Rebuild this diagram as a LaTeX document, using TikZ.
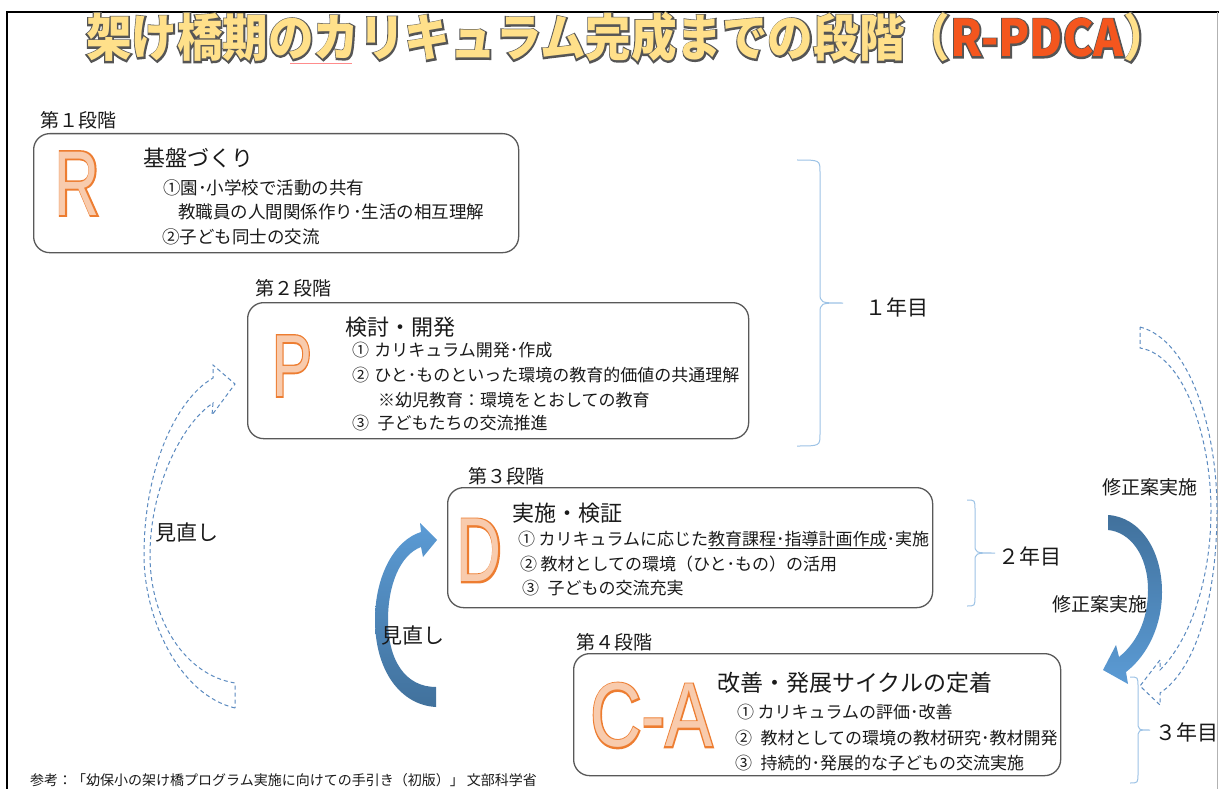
\documentclass[tikz,border=0pt]{standalone}
\usepackage{fontspec}
\setmainfont{Noto Sans CJK JP}
\newfontfamily\jp{Noto Sans CJK JP}
\newfontfamily\jpol{Noto Sans CJK JP}[RawFeature={embolden=6}]
\newfontfamily\lat{Liberation Sans}
\newfontfamily\latol{Liberation Sans}[RawFeature={embolden=3.6}]
\usetikzlibrary{calc}
\definecolor{boxline}{HTML}{595959}
\definecolor{brc}{HTML}{9DC3E6}
\definecolor{dashblue}{HTML}{5B8AC0}
\definecolor{orl}{HTML}{ED7D31}
\definecolor{orf}{HTML}{F8CBAD}
\definecolor{tyel}{HTML}{FFE08A}
\definecolor{tred}{HTML}{F4561E}
\definecolor{tout}{HTML}{555555}
\definecolor{blueA}{HTML}{5B9BD5}
\definecolor{blueB}{HTML}{41719C}
\definecolor{txt}{HTML}{1A1A1A}
% #1 position, #2 anchor, #3 fill font, #4 outline font, #5 fill colour, #6 outline colour, #7 text
\newcommand\otext[7]{%
  \node[inner sep=0pt,anchor=#2,font=#4,text=#6] at (#1) {#7};%
  \node[inner sep=0pt,anchor=#2,font=#3,text=#5] at (#1) {#7};}
\newcommand\tsz{\bfseries\fontsize{46}{46}\selectfont}
\tikzset{
  box/.style={draw=boxline, line width=1.3pt, rounded corners=16pt, inner sep=0pt, anchor=north west},
  stg/.style={anchor=west, inner sep=0pt, font=\jp\fontsize{19}{19}\selectfont, text=txt},
  hd/.style={anchor=west, inner sep=0pt, font=\jp\fontsize{22}{22}\selectfont, text=txt},
  itm/.style={anchor=west, inner sep=0pt, font=\jp\fontsize{17}{17}\selectfont, text=txt},
  yr/.style={anchor=west, inner sep=0pt, font=\jp\fontsize{21}{21}\selectfont, text=txt},
  lbl/.style={anchor=center, inner sep=0pt, font=\jp\fontsize{21}{21}\selectfont, text=txt},
  lbls/.style={anchor=center, inner sep=0pt, font=\jp\fontsize{19}{19}\selectfont, text=txt},
  braceline/.style={draw=brc, line width=1pt},
  dasharrow/.style={draw=dashblue, line width=1pt, dash pattern=on 4pt off 3pt},
}
\begin{document}
\begin{tikzpicture}[x=1pt,y=-1pt]
\useasboundingbox (0,0) rectangle (1219,789);
\fill[white] (0,0) rectangle (1219,789);
% frame
\draw[black, line width=1.2pt] (1219,12) -- (7,12) -- (7,789);
\draw[gray!60, line width=0.8pt] (1217,12) -- (1217,789);

% title
\coordinate (tA) at (86,57);
\node[anchor=base west,inner sep=0pt,font=\jp\tsz] (t1) at (tA) {\phantom{\scalebox{0.99}[1.1]{架け橋期のカリキュラム完成までの段階（}}};
\node[anchor=base west,inner sep=0pt,font=\jp\tsz] (t2) at (t1.base east) {\phantom{\scalebox{0.99}[1.1]{R-PDCA}}};
\node[anchor=base west,inner sep=0pt,font=\jp\tsz] (t3) at (t2.base east) {\phantom{\scalebox{0.99}[1.1]{）}}};
\otext{t1.base west}{base west}{\jp\tsz}{\jpol\tsz}{tyel}{tout}{\scalebox{0.99}[1.1]{架け橋期のカリキュラム完成までの段階（}}
\otext{t2.base west}{base west}{\jp\tsz}{\jpol\tsz}{tred}{tout}{\scalebox{0.99}[1.1]{R-PDCA}}
\otext{t3.base west}{base west}{\jp\tsz}{\jpol\tsz}{tyel}{tout}{\scalebox{0.99}[1.1]{）}}
\draw[red!45, line width=0.6pt] (290,63) -- (352,63);

% boxes
\node[box, minimum width=485pt, minimum height=119pt] (boxR) at (33,133) {};
\node[box, minimum width=501pt, minimum height=136pt] (boxP) at (247,302) {};
\node[box, minimum width=485pt, minimum height=120pt] (boxD) at (447,487) {};
\node[box, minimum width=487pt, minimum height=122pt] (boxC) at (573,653) {};

% stage labels
\node[stg] (s1) at (40,120) {第１段階};
\node[stg] (s2) at (255,288) {第２段階};
\node[stg] (s3) at (468,476) {第３段階};
\node[stg] (s4) at (576,642) {第４段階};

% big letters
\coordinate (cR) at (77.5,183.5);
\coordinate (cP) at (292,366);
\coordinate (cD) at (479.5,550.5);
\coordinate (cC) at (651.5,715.5);
\otext{cR}{center}{\lat\fontsize{92}{92}\selectfont}{\latol\fontsize{92}{92}\selectfont}{orf}{orl}{\scalebox{0.68}[1]{R}}
\otext{cP}{center}{\lat\fontsize{88}{88}\selectfont}{\latol\fontsize{88}{88}\selectfont}{orf}{orl}{\scalebox{0.68}[1]{P}}
\otext{cD}{center}{\lat\fontsize{91}{91}\selectfont}{\latol\fontsize{91}{91}\selectfont}{orf}{orl}{\scalebox{0.685}[1]{D}}
\otext{cC}{center}{\lat\fontsize{91}{91}\selectfont}{\latol\fontsize{91}{91}\selectfont}{orf}{orl}{\scalebox{0.78}[1]{C-A}}

% R box text
\node[hd] (hR) at (143,158) {基盤づくり};
\node[itm, font=\jp\fontsize{17.5}{17.5}\selectfont] (r1) at (163,188) {①園･小学校で活動の共有};
\node[itm, font=\jp\fontsize{17.5}{17.5}\selectfont] (r2) at (178,212) {教職員の人間関係作り･生活の相互理解};
\node[itm, font=\jp\fontsize{17.5}{17.5}\selectfont] (r3) at (162,237) {②子ども同士の交流};

% P box text
\node[hd] (hP) at (345,327) {検討・開発};
\node[itm] (p1) at (352,350) {①\hspace{0.3em}カリキュラム開発･作成};
\node[itm] (p2) at (352,375) {②\hspace{0.3em}ひと･ものといった環境の教育的価値の共通理解};
\node[itm] (p3) at (378,400) {※幼児教育：環境をとおしての教育};
\node[itm] (p4) at (352,423) {③\hspace{0.5em}子どもたちの交流推進};

% D box text
\node[hd] (hD) at (512,513) {実施・検証};
\node[itm] (d1) at (518,540) {①\hspace{0.2em}カリキュラムに応じた\underline{教育課程･指導計画作成}･実施};
\node[itm] (d2) at (520,564) {②\hspace{0.2em}教材としての環境（ひと･もの）の活用};
\node[itm] (d3) at (522,588) {③\hspace{0.5em}子どもの交流充実};

% CA box text
\node[hd, font=\jp\fontsize{23}{23}\selectfont] (hC) at (717,683) {改善・発展サイクルの定着};
\node[itm] (c1) at (737,712) {①\hspace{0.2em}カリキュラムの評価･改善};
\node[itm] (c2) at (735,738) {②\hspace{0.5em}教材としての環境の教材研究･教材開発};
\node[itm] (c3) at (735,763) {③\hspace{0.5em}持続的･発展的な子どもの交流実施};

% braces
\draw[braceline] (797,160) .. controls (820,160) .. (820,172) -- (820,292) .. controls (820,303) .. (843,303)
  .. controls (820,303) .. (820,314) -- (820,434) .. controls (820,446) .. (797,446);
\draw[braceline] (967,500) .. controls (975,500) .. (975,510) -- (975,544) .. controls (975,553) .. (995,553)
  .. controls (975,553) .. (975,562) -- (975,596) .. controls (975,606) .. (967,606);
\draw[braceline] (1130,677) .. controls (1138,677) .. (1138,687) -- (1138,721) .. controls (1138,730) .. (1150,730)
  .. controls (1138,730) .. (1138,739) -- (1138,773) .. controls (1138,783) .. (1130,783);
\node[yr] (y1) at (865,307) {１年目};
\node[yr] (y2) at (998,556) {２年目};
\node[yr] (y3) at (1155,732) {３年目};

% solid blue arrows
\shade[top color=blueA, bottom color=blueB]
  (436,707) .. controls (400,705) and (375,670) .. (375,620)
  .. controls (375,575) and (395,540) .. (421,532)
  -- (420,523) -- (437,540) -- (423,557) -- (421,547)
  .. controls (400,555) and (388,585) .. (388,620)
  .. controls (388,660) and (405,687) .. (436,687) -- cycle;
\shade[top color=blueB, bottom color=blueA]
  (1108,515) .. controls (1140,517) and (1162,550) .. (1162,592)
  .. controls (1162,625) and (1148,655) .. (1126,672)
  -- (1128,684) -- (1103,670) -- (1116,645) -- (1119,657)
  .. controls (1140,640) and (1148,615) .. (1148,590)
  .. controls (1148,555) and (1130,532) .. (1108,530) -- cycle;

% dashed hollow arrows
\draw[dasharrow]
  (235,708) .. controls (180,695) and (144,620) .. (144,555)
  .. controls (144,470) and (175,400) .. (213,378)
  -- (213,365) -- (235,384) -- (212,415) -- (213,403)
  .. controls (180,425) and (150,490) .. (150,555)
  .. controls (150,620) and (185,675) .. (235,683) -- cycle;
\draw[dasharrow]
  (1140,327) .. controls (1190,340) and (1217,430) .. (1217,510)
  .. controls (1217,600) and (1195,670) .. (1160,693)
  -- (1160,705) -- (1140,686) -- (1160,660) -- (1160,670)
  .. controls (1190,640) and (1211,580) .. (1211,510)
  .. controls (1211,440) and (1185,355) .. (1140,348) -- cycle;

% arrow labels
\node[lbl] (m1) at (187,532) {見直し};
\node[lbl] (m2) at (413,635) {見直し};
\node[lbls] (k1) at (1150,487) {修正案実施};
\node[lbls] (k2) at (1100,604) {修正案実施};

% footer
\node[anchor=west, inner sep=0pt, font=\jp\fontsize{14}{14}\selectfont, text=txt] (foot) at (30,780) {参考：「幼保小の架け橋プログラム実施に向けての手引き（初版）」 文部科学省};
\end{tikzpicture}
\end{document}
